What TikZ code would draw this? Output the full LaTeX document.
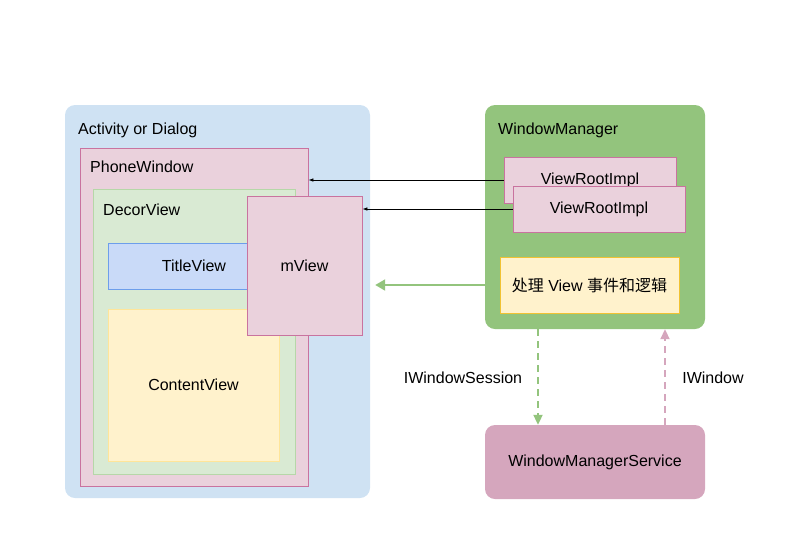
\documentclass[tikz,border=0pt]{standalone}
\usepackage{fontspec}
\setmainfont{Liberation Sans}
\newfontfamily\cjk{Noto Sans CJK SC}
\usetikzlibrary{arrows.meta}

\definecolor{actblue}{HTML}{CFE2F3}
\definecolor{winpink}{HTML}{EAD1DC}
\definecolor{pinkline}{HTML}{C9739F}
\definecolor{decorgreen}{HTML}{D9EAD3}
\definecolor{decorline}{HTML}{B6D7A8}
\definecolor{titleblue}{HTML}{C9DAF8}
\definecolor{titleline}{HTML}{6D9EEB}
\definecolor{contentyellow}{HTML}{FFF2CC}
\definecolor{contentline}{HTML}{FFE599}
\definecolor{logicline}{HTML}{F1C232}
\definecolor{wmgreen}{HTML}{93C47D}
\definecolor{wmspink}{HTML}{D5A6BD}

\begin{document}
\begin{tikzpicture}[x=1pt,y=-1pt,font=\fontsize{16}{19}\selectfont,
  panel/.style={rectangle,rounded corners=10pt,inner sep=0pt},
  box/.style={rectangle,draw,inner sep=0pt,line width=0.8pt},
  title/.style={anchor=base west,inner sep=0pt}]
\useasboundingbox (0,0) rectangle (793,558);

% app side
\node[panel,fill=actblue,minimum width=305pt,minimum height=393pt] (act) at (217.5,301.5) {};
\node[title] (actlbl) at (78,134) {Activity or Dialog};
\node[box,fill=winpink,draw=pinkline,minimum width=228pt,minimum height=338pt] (pw) at (194,317) {};
\node[title] (pwlbl) at (90,172) {PhoneWindow};
\node[box,fill=decorgreen,draw=decorline,minimum width=202pt,minimum height=285pt] (decor) at (194,331.5) {};
\node[title] (decorlbl) at (103,215) {DecorView};
\node[box,fill=titleblue,draw=titleline,minimum width=150pt,minimum height=46pt] (tv) at (183,266) {};
\node (tvlbl) at (194,266) {TitleView};
\node[box,fill=contentyellow,draw=contentline,minimum width=171pt,minimum height=152pt] (cv) at (193.5,385) {ContentView};
\node[box,fill=winpink,draw=pinkline,minimum width=115pt,minimum height=139pt] (mview) at (304.5,265.5) {mView};

% window manager side
\node[panel,fill=wmgreen,minimum width=220pt,minimum height=224pt] (wm) at (595,217) {};
\node[title] (wmlbl) at (498,134) {WindowManager};
\node[box,fill=winpink,draw=pinkline,minimum width=172pt,minimum height=46pt] (vri1) at (590,180) {ViewRootImpl};
\node[box,fill=winpink,draw=pinkline,minimum width=172pt,minimum height=46pt] (vri2) at (599,209) {ViewRootImpl};
\node[box,fill=contentyellow,draw=logicline,minimum width=179pt,minimum height=56pt] (logic) at (589.5,285) {{\cjk 处理} View {\cjk 事件和逻辑}};
\node[panel,fill=wmspink,minimum width=220pt,minimum height=74pt] (wms) at (595,462) {WindowManagerService};

% connections
\draw[-{Latex[length=5pt,width=3.5pt]},line width=0.7pt] (vri1.west) -- (vri1.west -| pw.east);
\draw[-{Latex[length=5pt,width=3.5pt]},line width=0.7pt] (vri2.west) -- (vri2.west -| mview.east);
\draw[-{Triangle[length=10pt,width=11pt]},wmgreen,line width=2pt] (wm.west |- logic) -- ([xshift=5pt]act.east |- logic);
\draw[-{Triangle[length=10pt,width=9pt]},wmgreen,line width=2pt,dash pattern=on 7pt off 5pt] ([xshift=-57pt]wm.south) -- ([xshift=-57pt]wms.north);
\draw[-{Triangle[length=10pt,width=9pt]},wmspink,line width=2pt,dash pattern=on 7pt off 5pt] ([xshift=70pt]wms.north) -- ([xshift=70pt]wm.south);
\node (sessionlbl) at (463,378) {IWindowSession};
\node (iwinlbl) at (713,378) {IWindow};
\end{tikzpicture}
\end{document}
